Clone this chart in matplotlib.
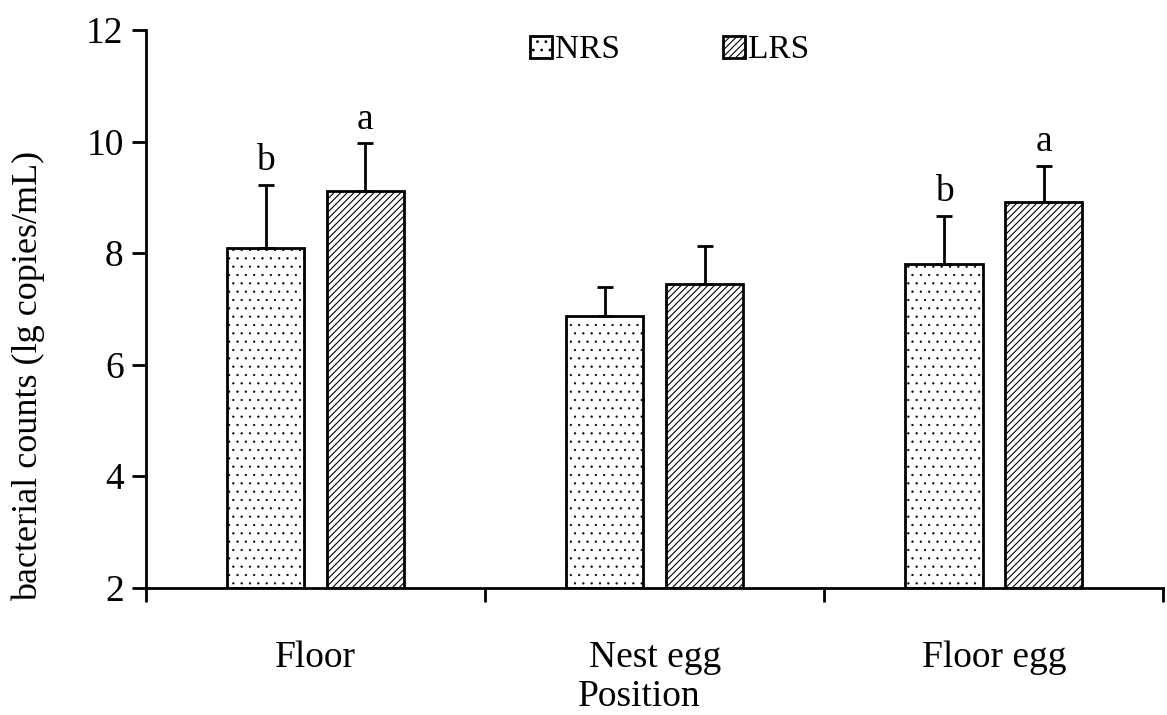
import numpy as np
import matplotlib.pyplot as plt

positions = ["Floor", "Nest egg", "Floor egg"]
nrs_mean = [8.1, 6.88, 7.8]
nrs_err = [1.12, 0.52, 0.87]
lrs_mean = [9.12, 7.45, 8.92]
lrs_err = [0.85, 0.67, 0.65]
nrs_letters = ["b", "", "b"]
lrs_letters = ["a", "", "a"]

plt.rcParams['font.family'] = ['Liberation Serif', 'DejaVu Serif']

fig = plt.figure(figsize=(11.67, 7.15), dpi=100)
ax = fig.add_axes([0.125, 0.178, 0.872, 0.78])

x = np.arange(len(positions))
w = 0.228
off = 0.147
bottom = 2

plt.rcParams['hatch.linewidth'] = 0.4
ax.bar(x - off, np.array(nrs_mean) - bottom, w, bottom=bottom, color='white',
       edgecolor='black', linewidth=2, hatch='..', label='NRS')
plt.rcParams['hatch.linewidth'] = 0.8
ax.bar(x + off, np.array(lrs_mean) - bottom, w, bottom=bottom, color='white',
       edgecolor='black', linewidth=2, hatch='/////', label='LRS')

ax.errorbar(x - off, nrs_mean, yerr=[np.zeros(3), nrs_err], fmt='none',
            ecolor='black', elinewidth=2, capsize=6, capthick=2)
ax.errorbar(x + off, lrs_mean, yerr=[np.zeros(3), lrs_err], fmt='none',
            ecolor='black', elinewidth=2, capsize=6, capthick=2)

for i in range(len(positions)):
    if nrs_letters[i]:
        ax.text(x[i] - off, nrs_mean[i] + nrs_err[i] + 0.12, nrs_letters[i],
                ha='center', va='bottom', fontsize=27)
    if lrs_letters[i]:
        ax.text(x[i] + off, lrs_mean[i] + lrs_err[i] + 0.12, lrs_letters[i],
                ha='center', va='bottom', fontsize=27)

ax.set_xlim(-0.5, 2.5)
ax.set_ylim(2, 12)
ax.set_yticks([2, 4, 6, 8, 10, 12])
ax.set_xticks(x)
ax.set_xticklabels(positions)
ax.set_xticks([-0.5, 0.5, 1.5, 2.5], minor=True)
ax.tick_params(axis='x', which='major', length=0, pad=38, labelsize=27)
ax.tick_params(axis='x', which='minor', length=10, width=2, direction='out')
ax.tick_params(axis='y', length=10, width=2, direction='out', labelsize=27, pad=6)

for s in ['top', 'right']:
    ax.spines[s].set_visible(False)
ax.spines['left'].set_linewidth(2)
ax.spines['bottom'].set_linewidth(2)

ax.set_xlabel('Position', fontsize=27)
ax.xaxis.set_label_coords(0.485, -0.165)
ax.set_ylabel('bacterial counts (lg copies/mL)', fontsize=26)
ax.yaxis.set_label_coords(-0.099, 0.38)

ax.legend(loc='upper center', bbox_to_anchor=(0.515, 1.045), ncol=2, frameon=False,
          fontsize=24, handlelength=0.65, handleheight=0.65, handletextpad=0.1,
          columnspacing=3.1)

fig.savefig('out.png', dpi=100)
